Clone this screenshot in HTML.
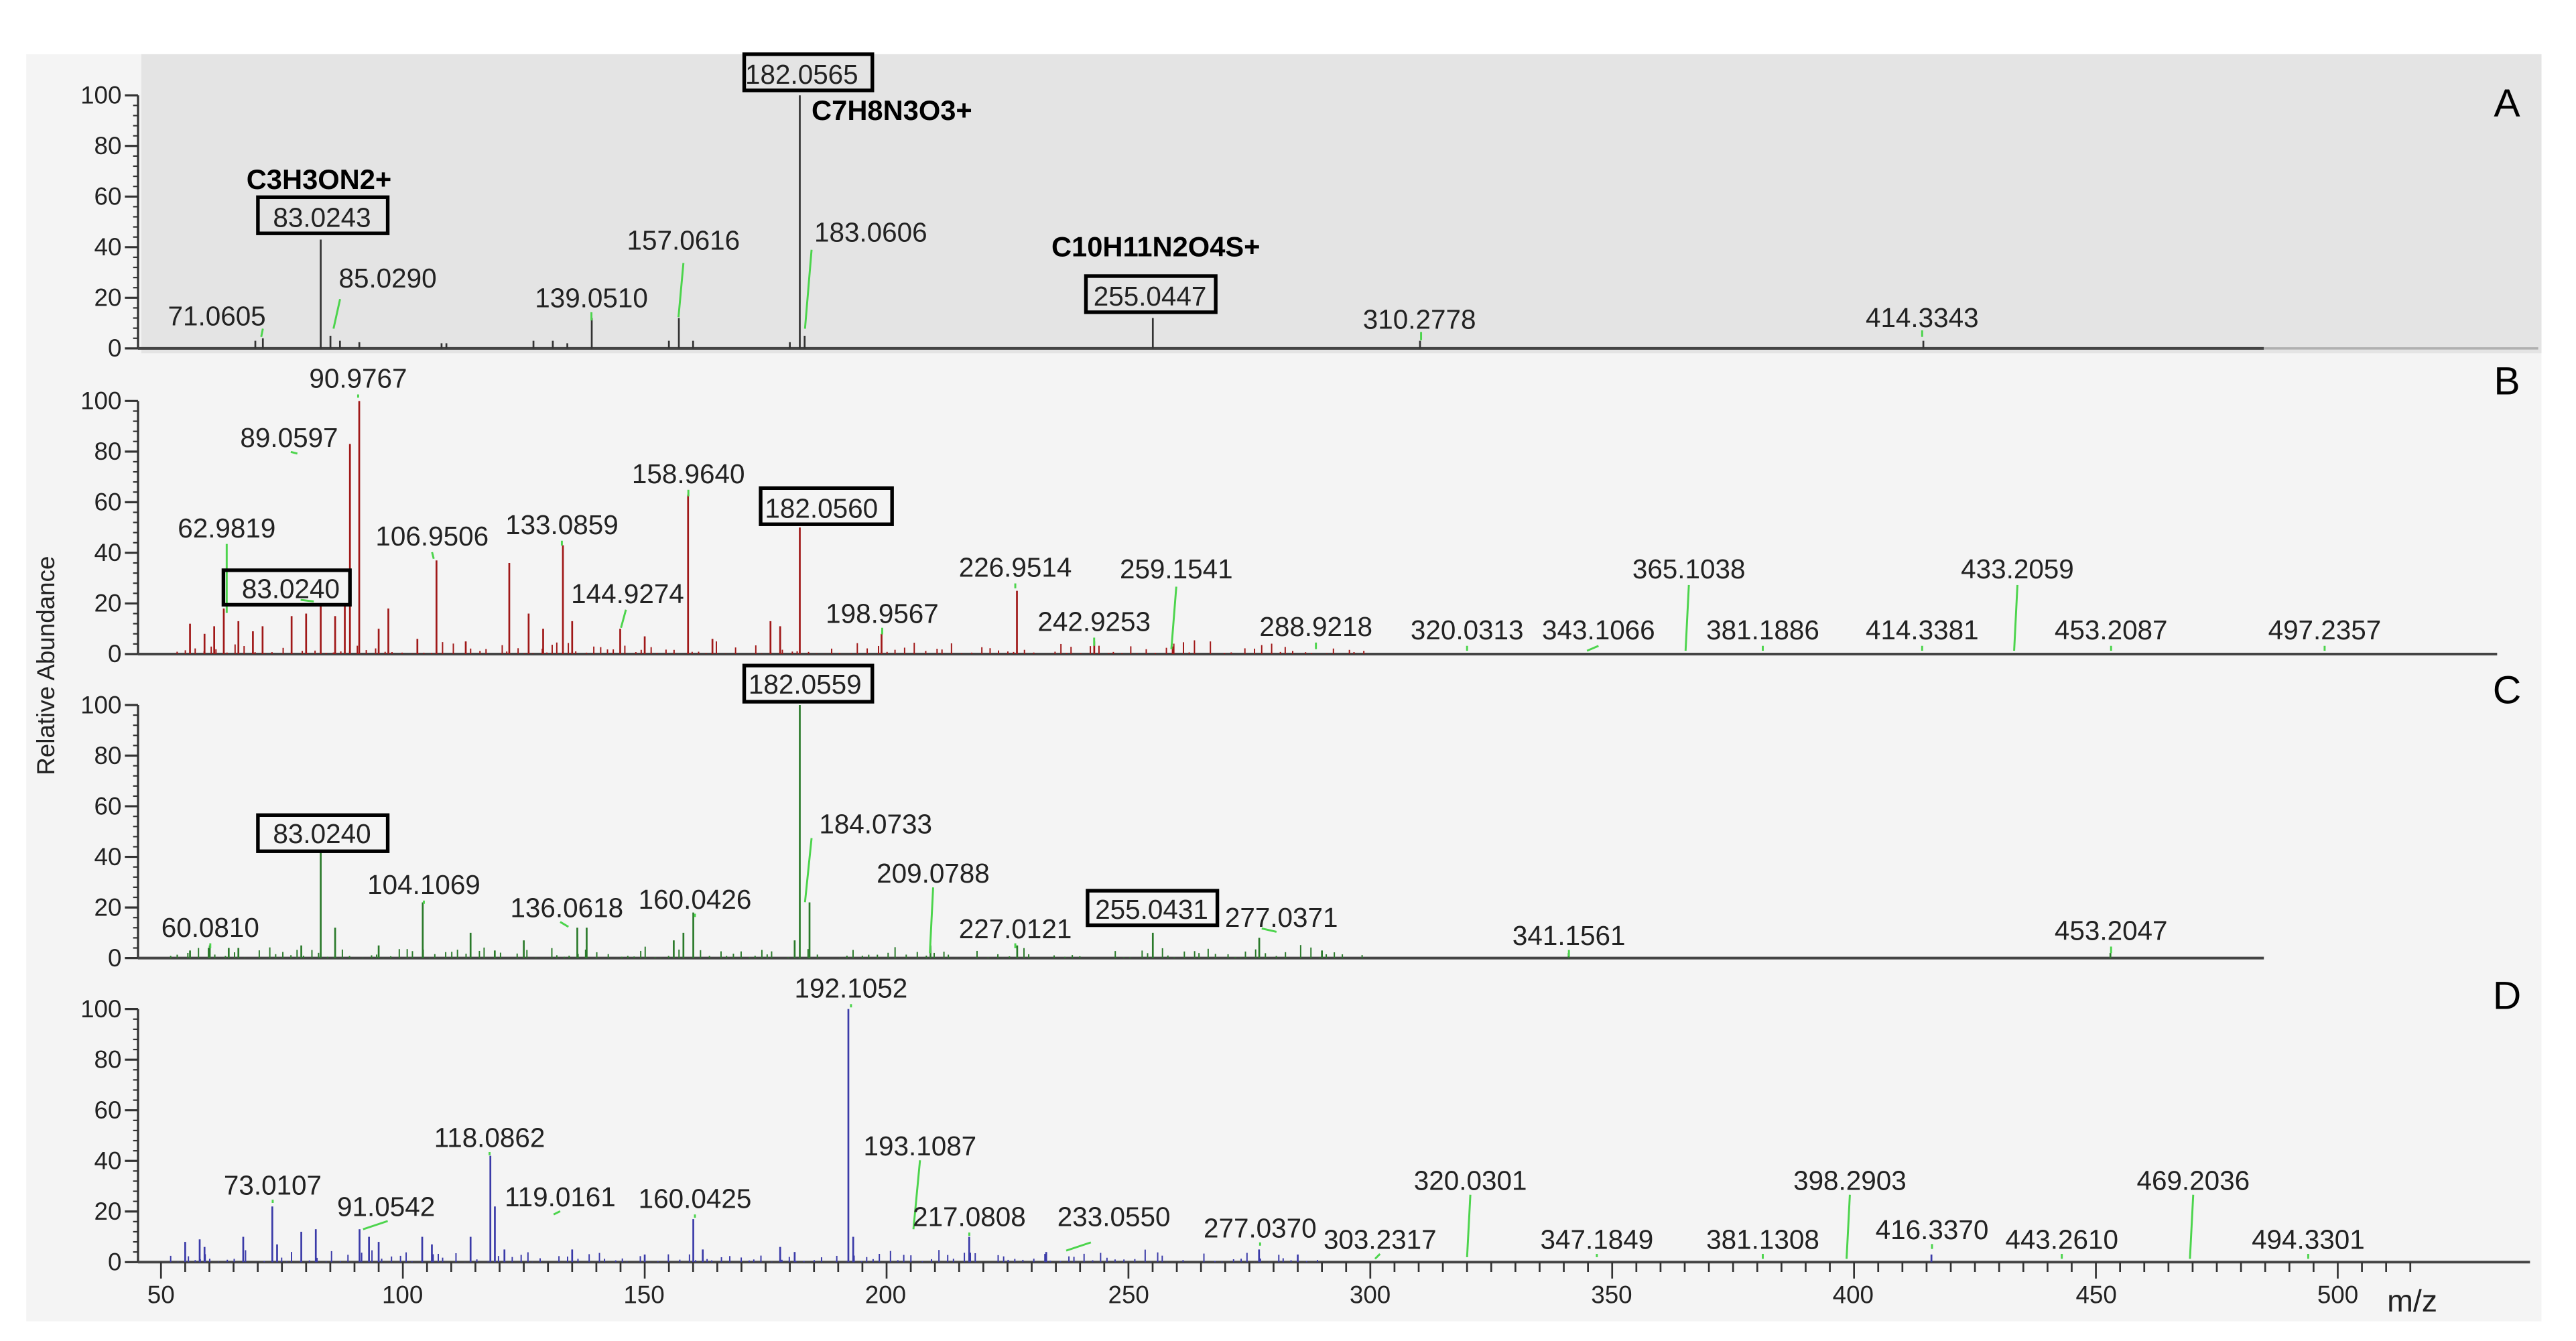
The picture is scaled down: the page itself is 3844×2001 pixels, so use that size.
<!DOCTYPE html>
<html><head><meta charset="utf-8"><style>
html,body{margin:0;padding:0;background:#fff;}
svg{display:block;}
text{font-family:"Liberation Sans",sans-serif;fill:#222;}
.l{font-size:16.5px;text-anchor:middle;}
.t{font-size:15px;text-anchor:end;}
.b{font-size:17px;font-weight:bold;fill:#000;}
.p{font-size:24px;fill:#000;text-anchor:middle;}
</style></head><body>
<svg id="s" width="3844" height="2001" viewBox="0 0 1568 816" preserveAspectRatio="none" xmlns="http://www.w3.org/2000/svg">
<rect x="16" y="33" width="1531" height="771" fill="#f4f4f4"/>
<rect x="86" y="33" width="1461" height="182" fill="#e4e4e4"/>
<g id="g"></g>
<!-- Panel A labels -->
<text class="l" x="132" y="198">71.0605</text>
<text class="l" x="236" y="175">85.0290</text>
<text class="l" x="360" y="187">139.0510</text>
<text class="l" x="416" y="152">157.0616</text>
<text class="l" x="530" y="147">183.0606</text>
<text class="l" x="864" y="200">310.2778</text>
<text class="l" x="1170" y="199">414.3343</text>
<rect x="453" y="33" width="78" height="22" fill="none" stroke="#000" stroke-width="2.2"/>
<text class="l" x="488" y="51">182.0565</text>
<rect x="157" y="120" width="79" height="22" fill="none" stroke="#000" stroke-width="2.2"/>
<text class="l" x="196" y="138">83.0243</text>
<rect x="661" y="168" width="79" height="22" fill="none" stroke="#000" stroke-width="2.2"/>
<text class="l" x="700" y="186">255.0447</text>
<text class="b" x="150" y="115">C3H3ON2+</text>
<text class="b" x="494" y="73">C7H8N3O3+</text>
<text class="b" x="640" y="156">C10H11N2O4S+</text>
<text class="p" x="1526" y="71">A</text>
<!-- Panel B labels -->
<text class="l" x="218" y="236">90.9767</text>
<text class="l" x="176" y="272">89.0597</text>
<text class="l" x="138" y="327">62.9819</text>
<text class="l" x="263" y="332">106.9506</text>
<text class="l" x="342" y="325">133.0859</text>
<text class="l" x="419" y="294">158.9640</text>
<text class="l" x="382" y="367">144.9274</text>
<text class="l" x="537" y="379">198.9567</text>
<text class="l" x="618" y="351">226.9514</text>
<text class="l" x="666" y="384">242.9253</text>
<text class="l" x="716" y="352">259.1541</text>
<text class="l" x="801" y="387">288.9218</text>
<text class="l" x="893" y="389">320.0313</text>
<text class="l" x="973" y="389">343.1066</text>
<text class="l" x="1028" y="352">365.1038</text>
<text class="l" x="1073" y="389">381.1886</text>
<text class="l" x="1170" y="389">414.3381</text>
<text class="l" x="1228" y="352">433.2059</text>
<text class="l" x="1285" y="389">453.2087</text>
<text class="l" x="1415" y="389">497.2357</text>
<rect x="463" y="297" width="80" height="22" fill="none" stroke="#000" stroke-width="2.2"/>
<text class="l" x="500" y="315">182.0560</text>
<rect x="136" y="347" width="77" height="21" fill="none" stroke="#000" stroke-width="2.2"/>
<text class="l" x="177" y="364">83.0240</text>
<text class="p" x="1526" y="240">B</text>
<!-- Panel C labels -->
<text class="l" x="128" y="570">60.0810</text>
<text class="l" x="258" y="544">104.1069</text>
<text class="l" x="345" y="558">136.0618</text>
<text class="l" x="423" y="553">160.0426</text>
<text class="l" x="533" y="507">184.0733</text>
<text class="l" x="568" y="537">209.0788</text>
<text class="l" x="618" y="571">227.0121</text>
<text class="l" x="780" y="564">277.0371</text>
<text class="l" x="955" y="575">341.1561</text>
<text class="l" x="1285" y="572">453.2047</text>
<rect x="453" y="405" width="78" height="22" fill="none" stroke="#000" stroke-width="2.2"/>
<text class="l" x="490" y="422">182.0559</text>
<rect x="157" y="496" width="79" height="22" fill="none" stroke="#000" stroke-width="2.2"/>
<text class="l" x="196" y="513">83.0240</text>
<rect x="662" y="542" width="79" height="21" fill="none" stroke="#000" stroke-width="2.2"/>
<text class="l" x="701" y="559">255.0431</text>
<text class="p" x="1526" y="428">C</text>
<!-- Panel D labels -->
<text class="l" x="518" y="607">192.1052</text>
<text class="l" x="560" y="703">193.1087</text>
<text class="l" x="298" y="698">118.0862</text>
<text class="l" x="166" y="727">73.0107</text>
<text class="l" x="235" y="740">91.0542</text>
<text class="l" x="341" y="734">119.0161</text>
<text class="l" x="423" y="735">160.0425</text>
<text class="l" x="590" y="746">217.0808</text>
<text class="l" x="678" y="746">233.0550</text>
<text class="l" x="767" y="753">277.0370</text>
<text class="l" x="840" y="760">303.2317</text>
<text class="l" x="895" y="724">320.0301</text>
<text class="l" x="972" y="760">347.1849</text>
<text class="l" x="1073" y="760">381.1308</text>
<text class="l" x="1126" y="724">398.2903</text>
<text class="l" x="1176" y="754">416.3370</text>
<text class="l" x="1255" y="760">443.2610</text>
<text class="l" x="1335" y="724">469.2036</text>
<text class="l" x="1405" y="760">494.3301</text>
<text class="p" x="1526" y="614">D</text>
<!-- x axis labels -->
<text class="l" x="98" y="793" style="font-size:15px">50</text>
<text class="l" x="245" y="793" style="font-size:15px">100</text>
<text class="l" x="392" y="793" style="font-size:15px">150</text>
<text class="l" x="539" y="793" style="font-size:15px">200</text>
<text class="l" x="687" y="793" style="font-size:15px">250</text>
<text class="l" x="834" y="793" style="font-size:15px">300</text>
<text class="l" x="981" y="793" style="font-size:15px">350</text>
<text class="l" x="1128" y="793" style="font-size:15px">400</text>
<text class="l" x="1276" y="793" style="font-size:15px">450</text>
<text class="l" x="1423" y="793" style="font-size:15px">500</text>
<text x="1453" y="798" style="font-size:19px">m/z</text>
<text transform="translate(33,405) rotate(-90)" style="font-size:15px;text-anchor:middle">Relative Abundance</text>
<!-- y tick labels -->
<g id="yl"></g>
</svg>
<script>
var NS="http://www.w3.org/2000/svg",g=document.getElementById('g'),yl=document.getElementById('yl');
function X(m){return 98+(m-50)*2.9444;}
function L(x1,y1,x2,y2,c,w){var e=document.createElementNS(NS,'line');e.setAttribute('x1',x1);e.setAttribute('y1',y1);e.setAttribute('x2',x2);e.setAttribute('y2',y2);e.setAttribute('stroke',c);e.setAttribute('stroke-width',w);g.appendChild(e);}
function T(x,y,s){var e=document.createElementNS(NS,'text');e.setAttribute('x',x);e.setAttribute('y',y);e.setAttribute('class','t');e.textContent=s;yl.appendChild(e);}
var seed=7;function R(){seed=(seed*16807)%2147483647;return seed/2147483647;}
var P=[
 {y0:212,c:'#333',end:1378,pk:[[71.06,4],[69.5,3],[83.02,43],[85.03,5],[87,3],[91,2.5],[108,2],[109,2],[127,3],[131,3],[134,2],[139.05,12],[155,3],[157.06,12],[160,3],[180,2.5],[182.06,100],[183.06,5],[255.04,12],[310.28,3],[414.33,3]],noise:0},
 {y0:398,c:'#a01818',end:1520,pk:[[90.98,100],[89.06,83],[62.98,18],[83.02,20],[106.95,37],[133.09,43],[122,36],[158.96,63],[144.93,10],[182.06,50],[198.96,8],[226.95,25],[242.93,5],[259.15,3],[56,12],[59,8],[61,11],[66,13],[69,9],[71,11],[77,15],[80,16],[86,15],[88,20],[95,10],[97,18],[103,6],[113,5],[126,16],[129,10],[135,13],[176,13],[178,11],[150,7],[164,6]],noise:1},
 {y0:583,c:'#2a7a2a',end:1378,pk:[[83.02,42],[182.06,100],[184.07,22],[104.11,22],[136.06,12],[138,12],[160.04,18],[158,10],[156,7],[60.08,5],[86,12],[114,10],[125,7],[209.08,5],[227,5],[255.04,10],[277.04,8],[290,3],[341,2],[453,2],[56,3],[64,4],[66,4],[79,5],[95,5],[181,7],[119,3]],noise:2},
 {y0:768,c:'#3a3aa8',end:1540,pk:[[192.1,100],[193.1,10],[118.09,42],[119.02,22],[73.01,22],[91.05,13],[160.04,17],[55,8],[58,9],[59,6],[67,10],[74,7],[79,12],[82,13],[93,10],[95,8],[104,10],[106,7],[114,10],[121,5],[135,5],[162,5],[178,6],[181,4],[217.08,10],[233,4],[277,5],[285,3],[416,3],[150,3]],noise:3}
];
P.forEach(function(p,i){
 var y0=p.y0,h=154;
 // y axis
 L(84,y0-h,84,y0,'#333',1.3);
 for(var v=0;v<=100;v+=4){var yy=y0-v*h/100;L(v%20==0?76:81,yy,84,yy,'#333',v%20==0?1.3:0.9);}
 for(var v=0;v<=100;v+=20){T(74,y0-v*h/100+5,String(v));}
 // baseline
 L(84,y0,p.end,y0,'#444',1.6);
 if(i==0)L(p.end,y0,1545,y0,'#b0b0b0',1.4);
 // noise
 if(p.noise){for(var m=52;m<(i==2?300:(i==1?300:290));m+=0.9+R()*1.5){var hh=R()*R()*6;L(X(m),y0,X(m),y0-hh*h/100,p.c,0.8);}}
 p.pk.forEach(function(k){L(X(k[0]),y0,X(k[0]),y0-k[1]*h/100,p.c,1.1);});
});
// x axis ticks on D
for(var m=50;m<=515;m+=5){var x=X(m);L(x,768,x,m%50==0?778:774,'#333',1.1);}
// green leader lines
var G='#4cd44c';
[[203,200,207,182],[413,193,416,160],[490,200,494,152],[159,205,160,200],[360,195,360,190],[865,207,865,202],[1170,205,1170,201],
 [218,240,218,242],[177,275,181,276],[138,331,138,373],[183,365,191,366],[263,336,264,340],[342,329,342,332],[419,298,419,302],[381,371,378,382],[537,382,537,386],[618,355,618,358],[666,388,666,393],[716,357,713,395],[801,391,801,395],[893,393,893,396],[973,393,966,396],[1028,356,1026,396],[1073,393,1073,396],[1170,393,1170,396],
 [1228,356,1226,396],[1285,393,1285,396],[1415,393,1415,396],
 [128,574,128,577],[258,548,258,550],[341,561,346,564],[423,556,423,558],[494,510,490,549],[568,540,566,580],[618,574,618,577],[768,565,777,567],[955,578,955,582],[1285,576,1285,580],
 [518,611,518,613],[560,706,556,748],[298,701,298,703],[166,730,166,732],[221,748,236,743],[341,737,337,739],[423,739,423,741],[590,750,590,752],[649,761,664,756],[767,756,767,758],[840,763,837,766],[895,727,893,765],[972,763,972,765],[1073,763,1073,766],[1126,727,1124,766],[1176,757,1176,760],[1255,763,1255,766],[1335,727,1333,766],[1405,763,1405,766]
].forEach(function(a){L(a[0],a[1],a[2],a[3],G,1.2);});
</script>
</body></html>
